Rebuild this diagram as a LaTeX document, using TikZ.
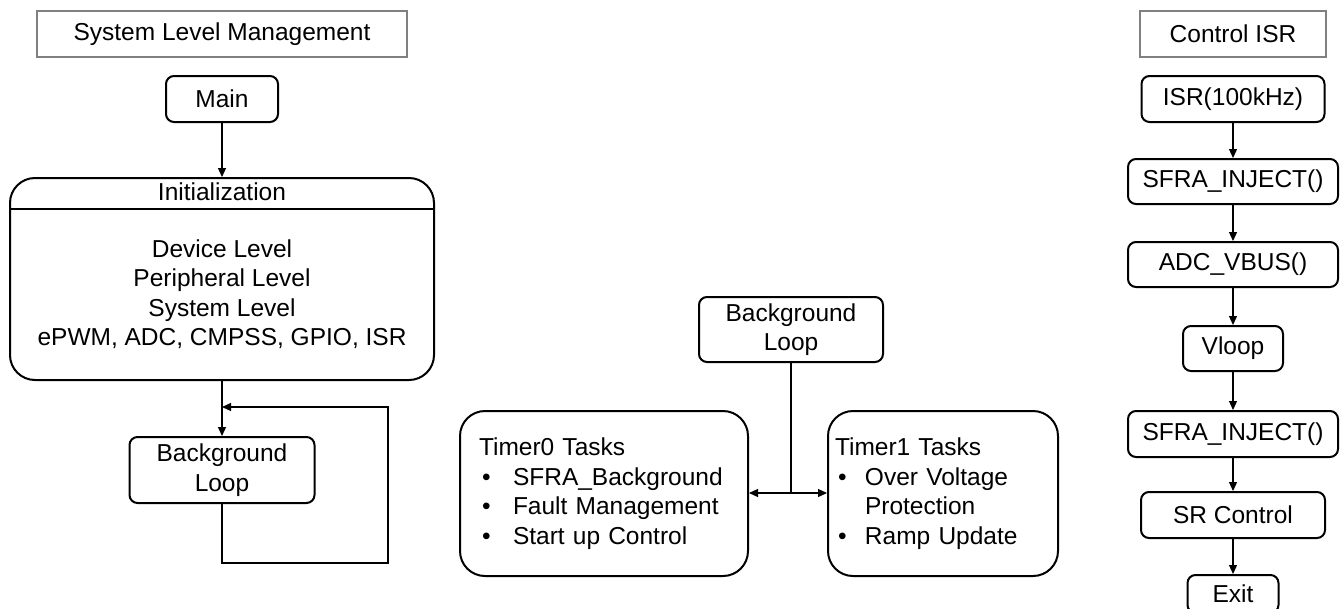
\documentclass[tikz,border=0pt]{standalone}
\usepackage{fontspec}
\setmainfont{Liberation Sans}
\usetikzlibrary{arrows.meta}

\tikzset{
  rbox/.style={draw,line width=2pt,rounded corners=8pt,inner sep=0pt,align=center},
  bigbox/.style={draw,line width=2pt,rounded corners=25pt,inner sep=0pt},
  titlebox/.style={draw=gray,line width=2pt,inner sep=0pt},
  link/.style={line width=1.2pt},
}

\begin{document}
\begin{tikzpicture}[line cap=butt,line join=miter,>={Triangle[length=9pt,width=8pt]},x=1pt,y=-1pt,
  font=\fontsize{24.5}{29.5}\selectfont]
\useasboundingbox (0,0) rectangle (1340,608);
% system level management
\node[titlebox,minimum width=370pt,minimum height=46pt] (slm) at (222,34) {System Level Management};
\node[rbox,minimum width=112pt,minimum height=46pt] (main) at (222,99) {Main};
\node[bigbox,minimum width=424pt,minimum height=202pt] (init) at (222,279) {};
\node (inittitle) at (222,192) {Initialization};
\draw[line width=1.2pt] (init.west |- 0,209) -- (init.east |- 0,209);
\node[align=center] (initbody) at (222,294) {Device Level\\Peripheral Level\\System Level\\ePWM, ADC, CMPSS, GPIO, ISR};
\node[rbox,minimum width=185pt,minimum height=66pt] (bgl) at (222,470) {Background\\Loop};
\coordinate (fbr) at (388,563);
\coordinate (fbt) at (388,407);
\draw[link,->] (main) -- (init);
\draw[link,->] (init) -- (bgl);
\draw[link,->] (bgl.south) |- (fbr) -- (fbt) -- (init.south |- fbt);
% background loop
\node[rbox,minimum width=184pt,minimum height=65pt] (bgm) at (791,329.5) {Background\\Loop};
\node[bigbox,text width=250pt,inner xsep=19pt,minimum height=165pt,align=left] (tmr0) at (604,493.5)
  {Timer0 Tasks\\\hspace*{3pt}\makebox[31pt][l]{•}SFRA\_Background\\\hspace*{3pt}\makebox[31pt][l]{•}Fault Management\\\hspace*{3pt}\makebox[31pt][l]{•}Start up Control};
\node[bigbox,text width=216pt,inner xsep=7pt,minimum height=165pt,align=left] (tmr1) at (943,493.5)
  {Timer1 Tasks\\\hspace*{3pt}\makebox[27pt][l]{•}Over Voltage\\\hspace*{30pt}Protection\\\hspace*{3pt}\makebox[27pt][l]{•}Ramp Update};
\coordinate (jn) at (791,493);
\draw[link] (bgm) -- (jn);
\draw[link,->] (jn) -- (tmr0.east |- jn);
\draw[link,->] (jn) -- (tmr1.west |- jn);
% control isr
\node[titlebox,minimum width=186pt,minimum height=46pt] (cisr) at (1233,34) {Control ISR};
\node[rbox,minimum width=183pt,minimum height=46pt] (isr) at (1233,99) {ISR(100kHz)};
\node[rbox,minimum width=210pt,minimum height=45pt] (inja) at (1233,181.5) {SFRA\_INJECT()};
\node[rbox,minimum width=210pt,minimum height=45pt] (adc) at (1233,264.5) {ADC\_VBUS()};
\node[rbox,minimum width=100pt,minimum height=45pt] (vloop) at (1233,348.5) {Vloop};
\node[rbox,minimum width=210pt,minimum height=46pt] (injb) at (1233,434) {SFRA\_INJECT()};
\node[rbox,minimum width=184pt,minimum height=46pt] (src) at (1233,515) {SR Control};
\node[rbox,minimum width=91pt,minimum height=38pt] (exit) at (1233,594) {Exit};
\foreach \a/\b in {isr/inja,inja/adc,adc/vloop,vloop/injb,injb/src,src/exit}
  \draw[link,->] (\a) -- (\b);
\end{tikzpicture}
\end{document}
